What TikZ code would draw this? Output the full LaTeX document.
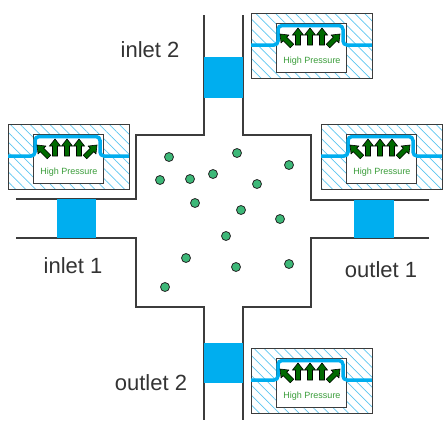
\documentclass[tikz,border=0pt]{standalone}
\usepackage{fontspec}
\setmainfont{Liberation Sans}
\usetikzlibrary{patterns.meta}
\definecolor{PipeBlue}{HTML}{00AEEF}
\definecolor{HatchBlue}{HTML}{5CC6F0}
\definecolor{WallGray}{HTML}{3C3C3C}
\definecolor{LabelGray}{HTML}{333333}
\definecolor{ArrowGreen}{HTML}{006A00}
\definecolor{TextGreen}{HTML}{3A9D3A}
\definecolor{DotGreen}{HTML}{3DB878}

\begin{document}
\begin{tikzpicture}[x=1pt,y=-1pt,
  wall/.style={draw=WallGray,line width=1.3pt},
  plug/.style={fill=PipeBlue},
  label/.style={text=LabelGray,font=\fontsize{22}{26}\selectfont,anchor=base},
  hatchbox/.style={draw=WallGray,line width=1pt,
    pattern={Lines[angle=-45,distance=7pt,line width=0.7pt]},pattern color=HatchBlue},
  chamber/.style={draw=WallGray,line width=0.6pt,fill=white},
  membrane/.style={draw=PipeBlue,line width=3.5pt,rounded corners=4pt},
  hparrow/.style={fill=ArrowGreen,draw=black,line width=0.6pt},
  hptext/.style={text=TextGreen,font=\fontsize{9}{10}\selectfont},
  particle/.style={fill=DotGreen,draw=black!85,line width=0.8pt}]
  \useasboundingbox (0,0) rectangle (443,421);

  % one block arrow, centre #1,#2, turned by #3
  \def\hparrow#1#2#3{
    \filldraw[hparrow,shift={(#1,#2)},rotate=#3]
      (-2.5,8.5) -- (-2.5,-1.5) -- (-5.5,-1.5) -- (0,-8.5)
      -- (5.5,-1.5) -- (2.5,-1.5) -- (2.5,8.5) -- cycle;
  }
  % valve housing with its top left corner at #2,#3
  \def\valve#1#2#3{
    \begin{scope}[shift={(#2,#3)}]
      \draw[hatchbox] (0,0) rectangle (121,65);
      \draw[chamber] (25,10) rectangle (95,59);
      \draw[membrane] (0,32) -- (27,32) -- (27,12.5) -- (92,12.5) -- (92,32) -- (121,32);
      \hparrow{35}{27}{45}
      \hparrow{47}{23.5}{0}
      \hparrow{59}{23.5}{0}
      \hparrow{71}{23.5}{0}
      \hparrow{83}{27}{-45}
      \node[hptext] (#1) at (61,48) {High Pressure};
    \end{scope}
  }

  % cross shaped channel
  \draw[wall] (204,15) -- (204,135) -- (136,135) -- (136,199) -- (16,199);
  \draw[wall] (243,15) -- (243,135) -- (311,135) -- (311,200) -- (429,200);
  \draw[wall] (16,238) -- (136,238) -- (136,307) -- (204,307) -- (204,420);
  \draw[wall] (429,238) -- (311,238) -- (311,307) -- (243,307) -- (243,420);

  % blue plugs in the four ports
  \fill[plug] (204,57) rectangle (243,98);
  \fill[plug] (57,199) rectangle (96,238);
  \fill[plug] (354,200) rectangle (394,238);
  \fill[plug] (204,343) rectangle (243,383);

  \valve{hpTop}{251}{13}
  \valve{hpLeft}{8}{124}
  \valve{hpRight}{321}{124}
  \valve{hpBottom}{251}{348}

  % particles
  \foreach \px/\py in {169/157,237/153,289/165,160/180,190/179,213/174,257/184,
      195/203,241/210,280/219,226/236,186/258,236/267,289/264,165/287}
    \filldraw[particle] (\px,\py) circle (4.5);

  \node[label] (inletTwo) at (150,57) {inlet 2};
  \node[label] (inletOne) at (73,273) {inlet 1};
  \node[label] (outletOne) at (381,277) {outlet 1};
  \node[label] (outletTwo) at (151,390) {outlet 2};
\end{tikzpicture}
\end{document}
